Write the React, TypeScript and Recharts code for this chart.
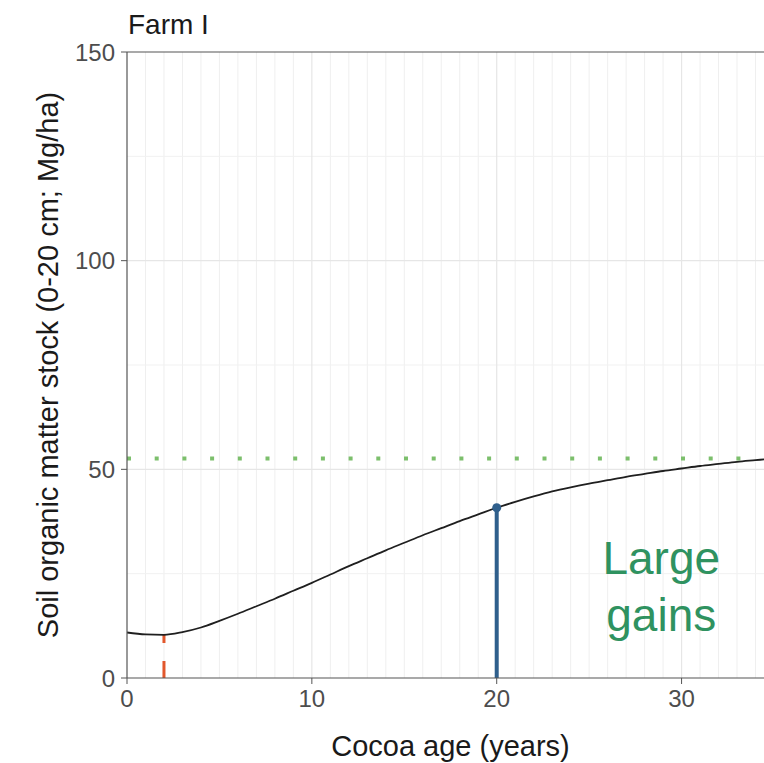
import React from 'react';
import { LineChart, Line, XAxis, YAxis, ReferenceLine, ReferenceDot, Label } from 'recharts';

const ages = [0, 1, 2, 3, 4, 5, 6, 7, 8, 9, 10, 11, 12, 13, 14, 15, 16, 17, 18, 19, 20, 21, 22, 23, 24, 25, 26, 27, 28, 29, 30, 31, 32, 33, 34, 35];
const stock = [10.9, 10.45, 10.35, 11.0, 12.1, 13.7, 15.4, 17.2, 19.0, 20.9, 22.8, 24.8, 26.8, 28.7, 30.6, 32.4, 34.2, 35.9, 37.6, 39.2, 40.8, 42.2, 43.5, 44.7, 45.7, 46.6, 47.4, 48.2, 48.9, 49.6, 50.2, 50.8, 51.3, 51.8, 52.2, 52.6];

const xTicks = [0, 10, 20, 30];
const yTicks = [0, 50, 100, 150];
const xMinorGrid = [1, 2, 3, 4, 5, 6, 7, 8, 9, 11, 12, 13, 14, 15, 16, 17, 18, 19, 21, 22, 23, 24, 25, 26, 27, 28, 29, 31, 32, 33, 34];
const xMajorGrid = [10, 20, 30];
const yMinorGrid = [25, 75, 125];
const yMajorGrid = [50, 100];

const equilibriumStock = 52.6;
const lowAge = 2;
const lowStock = 10.35;
const markAge = 20;
const markStock = 40.8;
const annotationLines = ['Large', 'gains'];
const annotationX = [28.9, 28.9];
const annotationY = [28.9, 15.1];

const data = ages.map((a, i) => ({ age: a, stock: stock[i] }));

const FONT = '"Liberation Sans", Arial, sans-serif';

export default function App() {
  return (
    <div style={{ position: 'absolute', left: 0, top: 0, width: 764, height: 763, overflow: 'hidden', background: '#fff', fontFamily: FONT }}>
      <div style={{ position: 'absolute', left: 128, top: 11, fontSize: 28, lineHeight: '28px', color: '#1a1a1a', fontFamily: FONT }}>Farm I</div>
      <LineChart width={774} height={763} data={data} margin={{ top: 52, right: 0, bottom: 0, left: 0 }} style={{ fontFamily: FONT }}>
        {xMinorGrid.map((v) => (
          <ReferenceLine key={'xm' + v} x={v} stroke="#efefef" strokeWidth={1} />
        ))}
        {yMinorGrid.map((v) => (
          <ReferenceLine key={'ym' + v} y={v} stroke="#f1f1f1" strokeWidth={1} />
        ))}
        {xMajorGrid.map((v) => (
          <ReferenceLine key={'xM' + v} x={v} stroke="#e6e6e6" strokeWidth={1.2} />
        ))}
        {yMajorGrid.map((v) => (
          <ReferenceLine key={'yM' + v} y={v} stroke="#e6e6e6" strokeWidth={1.2} />
        ))}
        <ReferenceLine y={150} stroke="#555" strokeWidth={1.2} />
        <XAxis
          dataKey="age"
          type="number"
          domain={[0, 35]}
          ticks={xTicks}
          allowDataOverflow
          height={85}
          tickSize={6}
          tickMargin={6}
          stroke="#555"
          tick={{ fill: '#4d4d4d', fontSize: 24, fontFamily: FONT }}
          axisLine={{ stroke: '#555', strokeWidth: 1.2 }}
          tickLine={{ stroke: '#555' }}
        >
          <Label value="Cocoa age (years)" position="insideBottom" offset={7} fill="#1a1a1a" fontSize={29} fontFamily={FONT} />
        </XAxis>
        <YAxis
          type="number"
          domain={[0, 150]}
          ticks={yTicks}
          width={127}
          tickSize={6}
          tickMargin={6}
          stroke="#555"
          tick={{ fill: '#4d4d4d', fontSize: 24, fontFamily: FONT }}
          axisLine={{ stroke: '#555', strokeWidth: 1.2 }}
          tickLine={{ stroke: '#555' }}
        >
          <Label value="Soil organic matter stock (0-20 cm; Mg/ha)" angle={-90} position="center" dx={-16} fill="#1a1a1a" fontSize={29} fontFamily={FONT} />
        </YAxis>
        <ReferenceLine y={equilibriumStock} stroke="#7cbf6c" strokeWidth={4} strokeDasharray="4 23.7" />
        <ReferenceLine
          segment={[{ x: lowAge, y: 0 }, { x: lowAge, y: lowStock }]}
          stroke="#e2572c"
          strokeWidth={3}
          strokeDasharray="17 18"
        />
        <ReferenceLine
          segment={[{ x: markAge, y: 0 }, { x: markAge, y: markStock }]}
          stroke="#2f5f8c"
          strokeWidth={4}
        />
        <ReferenceDot x={markAge} y={markStock} r={4.5} fill="#2f5f8c" stroke="none" />
        <Line type="monotone" dataKey="stock" stroke="#1f1f1f" strokeWidth={1.8} dot={false} isAnimationActive={false} />
        {annotationLines.map((t, i) => (
          <ReferenceDot
            key={t}
            x={annotationX[i]}
            y={annotationY[i]}
            r={0}
            fill="none"
            stroke="none"
            label={{ value: t, position: 'center', fill: '#2f9260', fontSize: 46, fontFamily: FONT }}
          />
        ))}
      </LineChart>
    </div>
  );
}
